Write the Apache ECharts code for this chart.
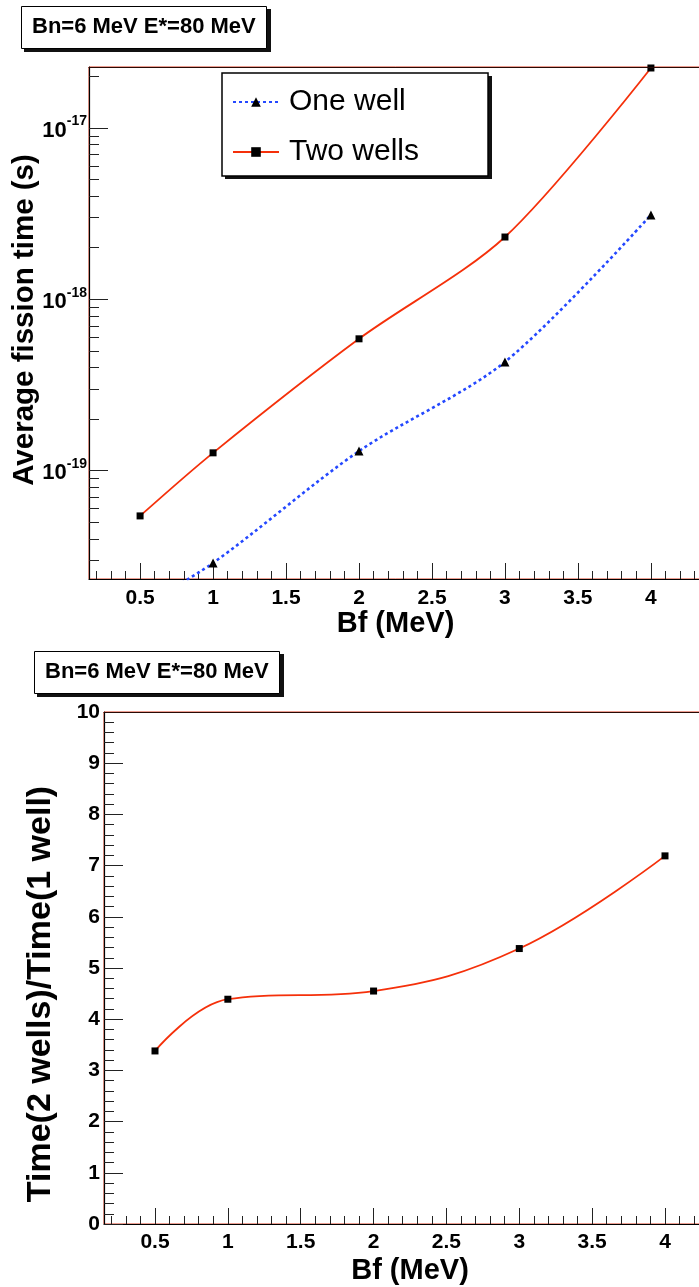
<!DOCTYPE html>
<html>
<head>
<meta charset="utf-8">
<script src="https://cdn.jsdelivr.net/npm/echarts@6/dist/echarts.min.js"></script>
<style>
html, body { margin: 0; padding: 0; overflow: hidden; background: #fff; }
#mychart { width: 730px; height: 1287px; }
</style>
</head>
<body>
<div id="mychart"></div>
<script>
// data
var bf = [0.5, 1, 2, 3, 4];
var timeOneWell = [1.6e-20, 2.89e-20, 1.30e-19, 4.31e-19, 3.11e-18];
var timeTwoWells = [5.44e-20, 1.27e-19, 5.88e-19, 2.31e-18, 2.24e-17];
var ratio = [3.38, 4.39, 4.55, 5.38, 7.19];

var xTicks = [0.5, 1, 1.5, 2, 2.5, 3, 3.5, 4];
var logTicks = [1e-19, 1e-18, 1e-17];

var FONT = '"Liberation Sans", Arial, sans-serif';
var RED = '#f5300a';
var BLUE = '#2448ff';
var LOG_MIN = 2.33e-20, LOG_MAX = 2.27e-17;

// minor ticks
var xMinor = [];
for (var i = 2; i <= 43; i++) {
	if (i % 5 != 0) xMinor.push(i / 10);
}
var logMinor = [];
for (var p = -20; p <= -17; p++) {
	for (var m = 2; m <= 9; m++) {
		var t = m * Math.pow(10, p);
		if (t > LOG_MIN && t < LOG_MAX) logMinor.push(t);
	}
}

function pairs(xs, ys) {
	var out = [];
	for (var i = 0; i < xs.length; i++) out.push([xs[i], ys[i]]);
	return out;
}

function xAxes(grid) {
	return [{
		gridIndex: grid,
		type: 'value',
		position: 'bottom',
		min: 0.15,
		max: 4.35,
		axisLine: { lineStyle: { color: '#000', width: 1.2 } },
		axisTick: { inside: true, length: 16, customValues: xTicks, lineStyle: { color: '#222' } },
		axisLabel: {
			customValues: xTicks,
			margin: grid == 0 ? 9 : 8,
			color: '#000',
			fontSize: 21,
			fontWeight: 'bold',
			fontFamily: FONT
		},
		splitLine: { show: false },
		name: 'Bf (MeV)',
		nameLocation: 'middle',
		nameGap: grid == 0 ? 30 : 32,
		nameTextStyle: { color: '#000', fontSize: 29, fontWeight: 'bold', fontFamily: FONT }
	}, {
		gridIndex: grid,
		type: 'value',
		position: 'bottom',
		min: 0.15,
		max: 4.35,
		axisLine: { show: false },
		axisTick: { inside: true, length: 8, customValues: xMinor, lineStyle: { color: '#222' } },
		axisLabel: { show: false },
		splitLine: { show: false }
	}, {
		gridIndex: grid,
		type: 'value',
		position: 'top',
		min: 0.15,
		max: 4.35,
		axisLine: { lineStyle: { color: '#2a0a05', width: 1.2 } },
		axisTick: { show: false },
		axisLabel: { show: false },
		splitLine: { show: false },
		z: 5
	}];
}

function titleBox(top, left) {
	return {
		text: 'Bn=6 MeV E*=80 MeV',
		left: left,
		top: top,
		padding: [10, 11, 11, 11],
		borderColor: '#000',
		borderWidth: 1,
		backgroundColor: '#fff',
		textStyle: { color: '#000', fontSize: 22, fontWeight: 'bold', fontFamily: FONT }
	};
}

// box drop shadows (ROOT style), drawn behind the boxes
function shadowRect(x, y, w, h) {
	return {
		type: 'rect',
		z: 0,
		shape: { x: x, y: y, width: w, height: h },
		style: { fill: '#111' }
	};
}

var myChart = echarts.init(document.getElementById('mychart'));

option = {
	backgroundColor: '#fff',
	animation: false,
	title: [titleBox(6, 21), titleBox(651, 34)],
	legend: {
		data: ['One well', 'Two wells'],
		orient: 'vertical',
		left: 222,
		top: 73,
		padding: [14, 69, 9, 10],
		itemGap: 20,
		itemWidth: 46,
		itemHeight: 12,
		backgroundColor: '#fff',
		borderColor: '#000',
		borderWidth: 1.5,
		textStyle: { color: '#000', fontSize: 30, fontFamily: FONT, padding: [0, 0, 0, 5] }
	},
	grid: [{
		left: 89, top: 67, width: 613, height: 512,
		show: true, borderColor: '#d83a20', borderWidth: 1, backgroundColor: 'transparent'
	}, {
		left: 104, top: 712, width: 612, height: 512,
		show: true, borderColor: '#d83a20', borderWidth: 1, backgroundColor: 'transparent'
	}],
	xAxis: xAxes(0).concat(xAxes(1)),
	yAxis: [{
		gridIndex: 0,
		type: 'log',
		logBase: 10,
		position: 'left',
		min: LOG_MIN,
		max: LOG_MAX,
		axisLine: { lineStyle: { color: '#000', width: 1.2 } },
		axisTick: { inside: true, length: 19, customValues: logTicks, lineStyle: { color: '#222' } },
		axisLabel: {
			customValues: logTicks,
			margin: 2,
			formatter: function(v) {
				var e = Math.round(Math.log(v) / Math.LN10);
				return '{b|10}{s|' + e + '}';
			},
			rich: {
				b: { color: '#000', fontSize: 22, fontWeight: 'bold', fontFamily: FONT, lineHeight: 27, verticalAlign: 'bottom' },
				s: { color: '#000', fontSize: 14, fontWeight: 'bold', fontFamily: FONT, lineHeight: 27, verticalAlign: 'top' }
			}
		},
		splitLine: { show: false }
	}, {
		gridIndex: 0,
		type: 'log',
		logBase: 10,
		position: 'left',
		min: LOG_MIN,
		max: LOG_MAX,
		axisLine: { show: false },
		axisTick: { inside: true, length: 10, customValues: logMinor, lineStyle: { color: '#222' } },
		axisLabel: { show: false },
		splitLine: { show: false }
	}, {
		gridIndex: 1,
		type: 'value',
		position: 'left',
		min: 0,
		max: 10,
		interval: 1,
		axisLine: { lineStyle: { color: '#000', width: 1.2 } },
		axisTick: { inside: true, length: 19, lineStyle: { color: '#222' } },
		minorTick: { show: true, splitNumber: 5, length: 10, lineStyle: { color: '#222' } },
		axisLabel: { margin: 4, color: '#000', fontSize: 21, fontWeight: 'bold', fontFamily: FONT },
		splitLine: { show: false }
	}],
	graphic: [
		shadowRect(24, 9, 247, 43),
		shadowRect(37, 654, 247, 43),
		shadowRect(225, 76, 267, 103),
	{
		type: 'text',
		x: 25,
		y: 320,
		rotation: Math.PI / 2,
		style: {
			text: 'Average fission time (s)',
			font: 'bold 29.5px ' + FONT,
			fill: '#000',
			align: 'center',
			verticalAlign: 'middle'
		}
	}, {
		type: 'text',
		x: 41,
		y: 994,
		rotation: Math.PI / 2,
		style: {
			text: 'Time(2 wells)/Time(1 well)',
			font: 'bold 34px ' + FONT,
			fill: '#000',
			align: 'center',
			verticalAlign: 'middle'
		}
	}],
	series: [{
		name: 'One well',
		type: 'line',
		xAxisIndex: 0,
		yAxisIndex: 0,
		data: pairs(bf, timeOneWell),
		smooth: 0.3,
		clip: true,
		symbol: 'triangle',
		symbolSize: 9,
		itemStyle: { color: '#000' },
		lineStyle: { color: BLUE, width: 2.6, type: [3, 3] },
		z: 3
	}, {
		name: 'Two wells',
		type: 'line',
		xAxisIndex: 0,
		yAxisIndex: 0,
		data: pairs(bf, timeTwoWells),
		smooth: 0.3,
		clip: true,
		symbol: 'rect',
		symbolSize: 7,
		itemStyle: { color: '#000' },
		lineStyle: { color: RED, width: 1.8 },
		z: 3
	}, {
		name: 'Ratio',
		type: 'line',
		xAxisIndex: 3,
		yAxisIndex: 2,
		data: pairs(bf, ratio),
		smooth: 0.4,
		symbol: 'rect',
		symbolSize: 7,
		itemStyle: { color: '#000' },
		lineStyle: { color: RED, width: 1.8 },
		z: 3
	}]
};
myChart.setOption(option);
</script>
</body>
</html>
